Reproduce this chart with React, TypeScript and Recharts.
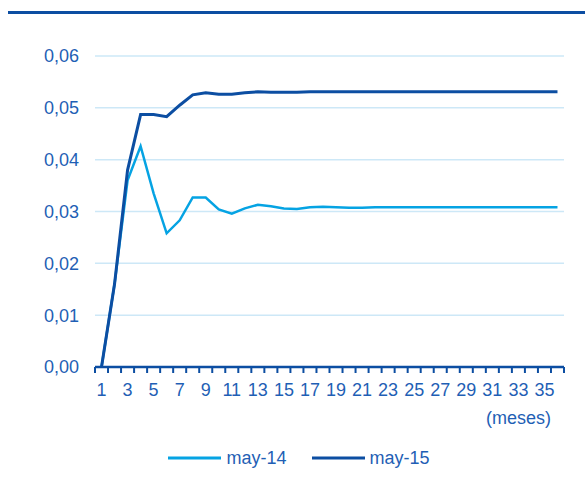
import { LineChart, Line, XAxis, YAxis, CartesianGrid, Legend } from 'recharts'

const months = Array.from({ length: 36 }, (_, i) => i + 1)

const may14 = [
  0, 0.016, 0.036, 0.0426, 0.0335, 0.0258, 0.0283, 0.0327, 0.0327, 0.0304,
  0.0296, 0.0306, 0.0313, 0.031, 0.0306, 0.0305, 0.0308, 0.0309, 0.0308, 0.0307,
  0.0307, 0.0308, 0.0308, 0.0308, 0.0308, 0.0308, 0.0308, 0.0308, 0.0308, 0.0308,
  0.0308, 0.0308, 0.0308, 0.0308, 0.0308, 0.0308,
]

const may15 = [
  0, 0.016, 0.038, 0.0487, 0.0487, 0.0483, 0.0505, 0.0525, 0.0529, 0.0526,
  0.0526, 0.0529, 0.0531, 0.053, 0.053, 0.053, 0.0531, 0.0531, 0.0531, 0.0531,
  0.0531, 0.0531, 0.0531, 0.0531, 0.0531, 0.0531, 0.0531, 0.0531, 0.0531, 0.0531,
  0.0531, 0.0531, 0.0531, 0.0531, 0.0531, 0.0531,
]

const yTicks = [0, 0.01, 0.02, 0.03, 0.04, 0.05, 0.06]
const xLabelTicks = [1, 3, 5, 7, 9, 11, 13, 15, 17, 19, 21, 23, 25, 27, 29, 31, 33, 35]
const xBoundaryTicks = Array.from({ length: 37 }, (_, i) => i + 0.5)

const DARK = '#0c4ea2'
const LIGHT = '#05a3e3'
const TEXT = '#1f5fb5'
const GRID = '#cde8f7'
const FONT = '"Liberation Sans", Arial, sans-serif'

const data = months.map((m, i) => ({ m, may14: may14[i], may15: may15[i] }))

function LegendContent({ payload }: any) {
  return (
    <div style={{ display: 'flex', justifyContent: 'center', alignItems: 'center', height: 30, paddingLeft: 34, fontFamily: FONT }}>
      {(payload ?? []).map((p: any, i: number) => (
        <div key={p.value} style={{ display: 'flex', alignItems: 'center', marginLeft: i === 0 ? 0 : 25 }}>
          <svg width={53} height={6}>
            <line x1={0} y1={3} x2={53} y2={3} stroke={p.color} strokeWidth={3} />
          </svg>
          <span style={{ marginLeft: 5, color: TEXT, fontSize: 18 }}>{p.value}</span>
        </div>
      ))}
    </div>
  )
}

export default function App() {
  return (
    <div style={{ position: 'absolute', left: 0, top: 0, width: 585, height: 486, background: '#fff', fontFamily: FONT }}>
      <div style={{ position: 'absolute', left: 8, right: 0, top: 11, height: 3, background: DARK }} />
      <div style={{ position: 'absolute', left: 0, top: 0 }}>
        <LineChart width={585} height={486} data={data} margin={{ top: 56, right: 21, bottom: 13, left: 0 }}>
          <CartesianGrid horizontal vertical={false} stroke={GRID} strokeWidth={1.5} xAxisId="lines" />
          <XAxis
            xAxisId="bounds"
            dataKey="m"
            type="number"
            domain={[0.5, 36.5]}
            ticks={xBoundaryTicks}
            interval={0}
            tickFormatter={() => ''}
            height={8}
            axisLine={{ stroke: DARK, strokeWidth: 2.5 }}
            tickLine={{ stroke: DARK, strokeWidth: 2 }}
            tickSize={6}
          />
          <XAxis
            xAxisId="lines"
            dataKey="m"
            type="number"
            domain={[0.5, 36.5]}
            ticks={xLabelTicks}
            interval={0}
            height={68}
            axisLine={false}
            tickLine={false}
            tickSize={0}
            tickMargin={8}
            tick={{ fill: TEXT, fontSize: 18, fontFamily: FONT }}
            label={(props: any) => {
              const vb = props.viewBox ?? {}
              return (
                <text x={vb.x + vb.width - 13} y={vb.y + 49} textAnchor="end" fill={TEXT} fontSize={18} fontFamily={FONT}>
                  (meses)
                </text>
              )
            }}
          />
          <YAxis
            domain={[0, 0.06]}
            ticks={yTicks}
            interval={0}
            width={95}
            axisLine={false}
            tickLine={false}
            tickSize={0}
            tickMargin={16}
            tickFormatter={(v: number) => v.toFixed(2).replace('.', ',')}
            tick={{ fill: TEXT, fontSize: 18, fontFamily: FONT }}
          />
          <Legend verticalAlign="bottom" content={<LegendContent />} />
          <Line xAxisId="lines" type="linear" dataKey="may14" name="may-14" stroke={LIGHT} strokeWidth={2.5} dot={false} isAnimationActive={false} />
          <Line xAxisId="lines" type="linear" dataKey="may15" name="may-15" stroke={DARK} strokeWidth={3} dot={false} isAnimationActive={false} />
        </LineChart>
      </div>
    </div>
  )
}
